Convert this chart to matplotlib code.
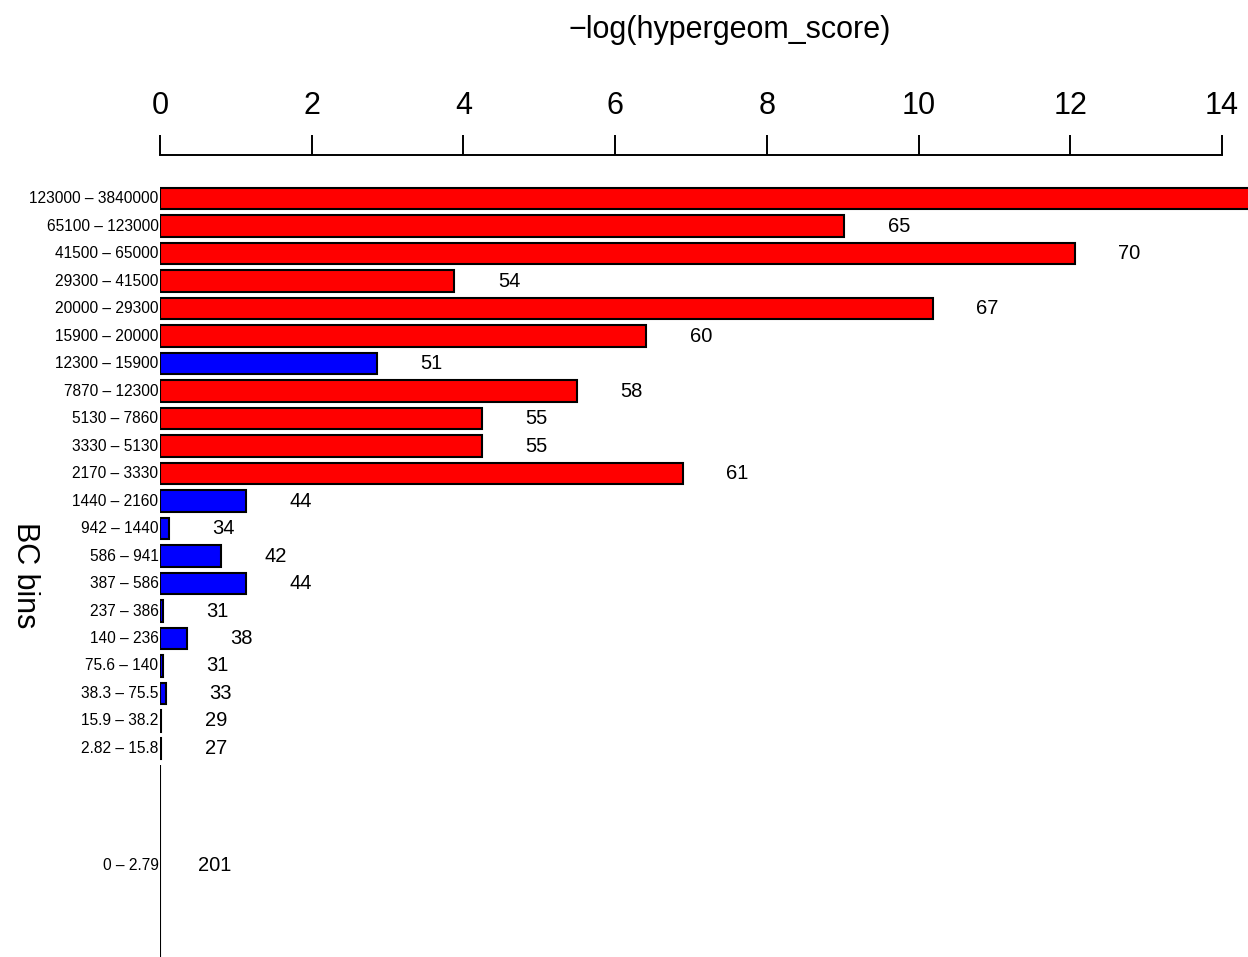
import matplotlib
matplotlib.use("Agg")
import matplotlib.pyplot as plt
import numpy as np

plt.rcParams['font.family'] = ['Liberation Sans', 'DejaVu Sans']

# BC bins, top to bottom
bins = ["123000 – 3840000", "65100 – 123000", "41500 – 65000", "29300 – 41500",
        "20000 – 29300", "15900 – 20000", "12300 – 15900", "7870 – 12300",
        "5130 – 7860", "3330 – 5130", "2170 – 3330", "1440 – 2160",
        "942 – 1440", "586 – 941", "387 – 586", "237 – 386", "140 – 236",
        "75.6 – 140", "38.3 – 75.5", "15.9 – 38.2", "2.82 – 15.8", "0 – 2.79"]
# -log(hypergeometric p) per bin
scores = [15.3, 9.02, 12.06, 3.88, 10.19, 6.41, 2.86, 5.50, 4.24, 4.24, 6.89,
          1.13, 0.12, 0.80, 1.13, 0.04, 0.36, 0.04, 0.08, 0.015, 0.015, 0.005]
# gene counts per bin
counts = [78, 65, 70, 54, 67, 60, 51, 58, 55, 55, 61, 44, 34, 42, 44, 31, 38,
          31, 33, 29, 27, 201]
# relative bar thickness
widths = [1] * 21 + [9.3]
threshold = -np.log(0.05)

fig = plt.figure(figsize=(12.48, 9.57), dpi=100)
W, H = 1248, 957
ax_top_px, ax_bot_px = 182, 957
ax = fig.add_axes([160 / W, 1 - ax_bot_px / H, 1 - 160 / W, (ax_bot_px - ax_top_px) / H])

w = np.array(widths, dtype=float)
space = 0.2 * w.mean()
tops = space * np.arange(1, len(w) + 1) + np.concatenate([[0], np.cumsum(w)[:-1]])
centers = tops + w / 2

px_per_unit = 21.55
ax.set_ylim((ax_bot_px - ax_top_px) / px_per_unit, 0)
xmax = (W - 160) / 75.86
ax.set_xlim(0, xmax)

colors = ['#ff0000' if s > threshold else '#0000ff' for s in scores]
ax.barh(centers, scores, height=w, color=colors, edgecolor='black', linewidth=1.5)

for c, s, n, lab in zip(centers, scores, counts, bins):
    if s + 0.72 < xmax:
        ax.text(s + 0.72, c, str(n), ha='center', va='center', fontsize=14.5)
    ax.text(-0.02, c, lab, ha='right', va='center', fontsize=11.2, clip_on=False)

for side in ['left', 'right', 'bottom']:
    ax.spines[side].set_visible(False)
ax.spines['top'].set_position(('outward', 19.4))
ax.spines['top'].set_bounds(0, 14)
ax.spines['top'].set_linewidth(1.4)
ax.xaxis.tick_top()
ax.set_xticks(np.arange(0, 15, 2))
ax.tick_params(axis='x', direction='out', length=14.4, width=1.4, pad=10, labelsize=22)
ax.set_yticks([])

fig.text(730 / W, 1 - 30 / H, "−log(hypergeom_score)", ha='center', va='center', fontsize=22)
fig.text(25 / W, 1 - 575 / H, "BC bins", ha='center', va='center', fontsize=22, rotation=-90)

fig.savefig("out.png", dpi=100)
